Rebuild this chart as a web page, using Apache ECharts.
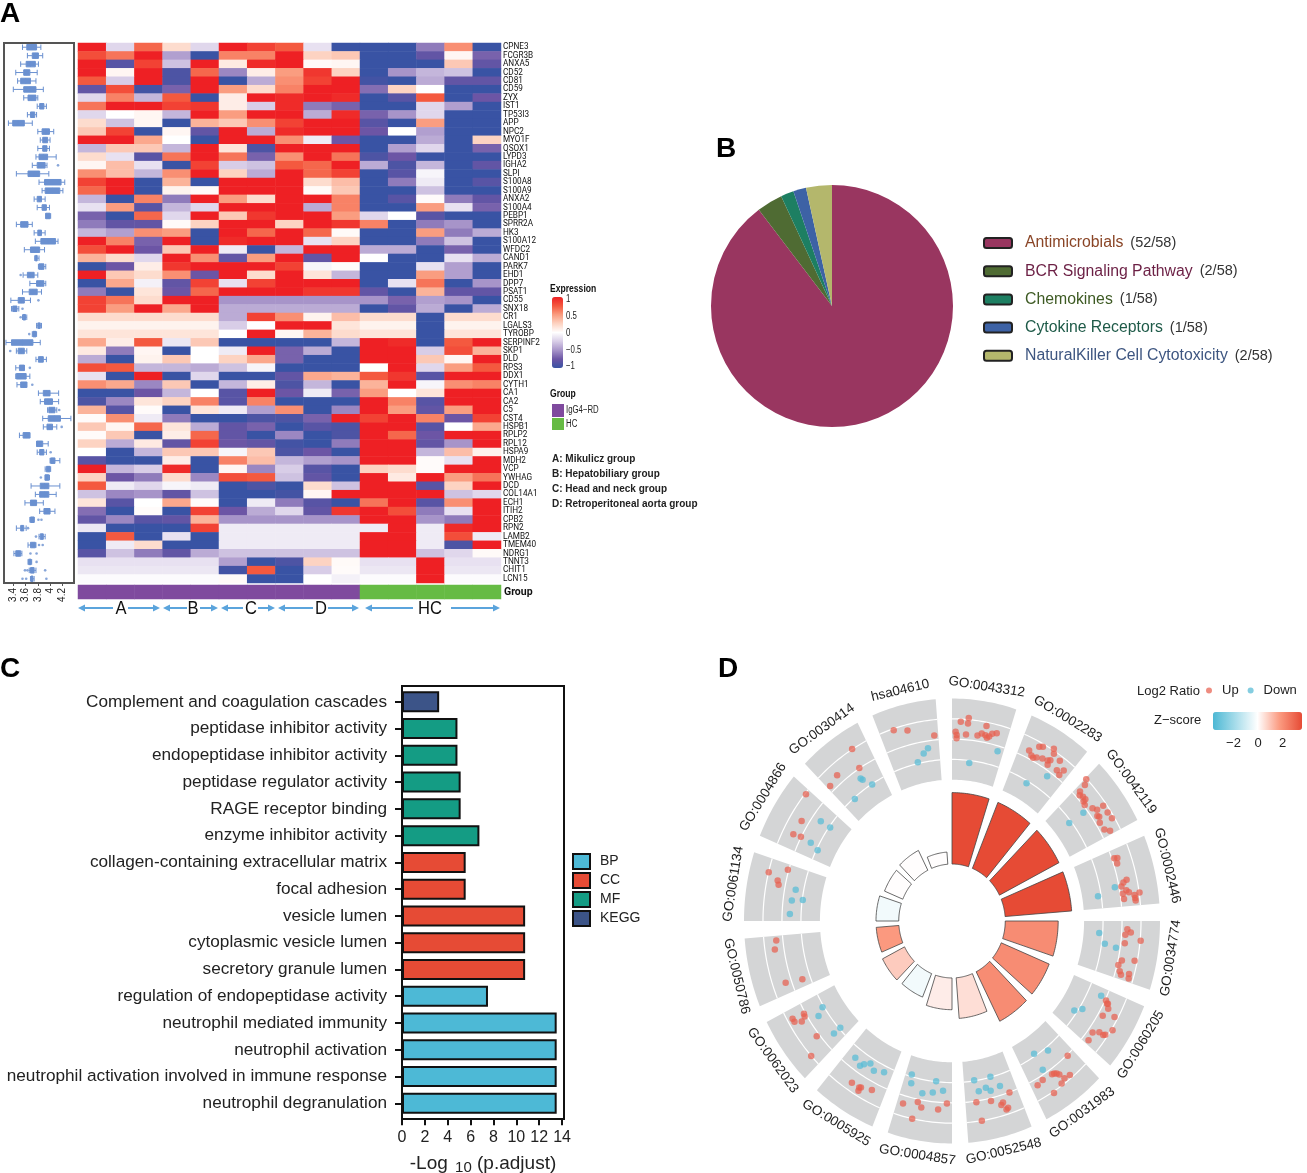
<!DOCTYPE html>
<html><head><meta charset="utf-8">
<style>html,body{margin:0;padding:0;background:#fff}#c{width:1307px;height:1173px}</style>
<script src="https://cdn.jsdelivr.net/npm/echarts@6/dist/echarts.min.js"></script>
</head><body><div id="c"></div>
<script>
const genes = ['CPNE3','FCGR3B','ANXA5','CD52','CD81','CD59','ZYX','IST1','TP53I3','APP','NPC2','MYO1F','QSOX1','LYPD3','IGHA2','SLPI','S100A8','S100A9','ANXA2','S100A4','PEBP1','SPRR2A','HK3','S100A12','WFDC2','CAND1','PARK7','EHD1','DPP7','PSAT1','CD55','SNX18','CR1','LGALS3','TYROBP','SERPINF2','SKP1','DLD','RPS3','DDX1','CYTH1','CA1','CA2','C5','CST4','HSPB1','RPLP2','RPL12','HSPA9','MDH2','VCP','YWHAG','DCD','COL14A1','ECH1','ITIH2','CPB2','RPN2','LAMB2','TMEM40','NDRG1','TNNT3','CHIT1','LCN15'];
const samples = ['A1','A2','A3','A4','B1','C1','C2','D1','D2','D3','HC1','HC2','HC3','HC4','HC5'];
const sampleGroup = [0,0,0,0,0,0,0,0,0,0,1,1,1,1,1];
const expression = [
[1,-.2,.7,.2,-.2,1,.85,.75,-.15,-1,-1,-1,-.6,.55,-1],
[.8,.65,1,-.45,-1,.6,.6,1,.25,.3,-1,-1,-.8,.05,-.7],
[1,-.85,.85,-.3,1,.12,.95,1,.03,.05,-1,-1,-1,.3,-.8],
[1,.05,1,-.9,.7,-.55,.1,.5,.9,.25,-1,-.5,-.35,-.3,-1],
[.75,-.25,1,-.9,1,-1,-.4,.55,.85,1,-.95,-1,-.4,-.8,-.8],
[-.8,.8,-.95,-.7,1,.5,.2,.6,1,1,-.65,.25,0,-1,-1],
[-.2,.6,-.35,.75,-1,.1,1,.95,1,.95,-1,-.85,.75,-1,-.75],
[.65,1,1,.85,.9,.1,-.25,.95,-.6,-.7,-1,-1,-.2,-.45,-1],
[-.2,0,.05,-.35,1,.5,1,1,-.4,.95,-.7,-.5,-.2,-1,-1],
[.2,-.3,.05,-1,.4,.3,.55,.85,1,1,-.85,-1,.5,-1,-1],
[.3,.85,-1,.05,-.8,1,-.4,.95,1,1,-.75,0,-.45,-1,-1],
[1,1,.45,0,-1,1,1,.55,-.1,-.75,-1,-1,-.4,-1,.25],
[-.35,.3,.3,-.35,1,.15,-.9,1,1,1,-1,-.45,-.2,-1,-.7],
[.2,-.15,-.85,.65,1,.65,-.7,.55,1,.65,-.9,-.75,-1,-1,-1],
[.05,.35,-.15,-1,.85,-.25,-.3,.75,.7,1,-.4,-.9,-.35,-1,-.8],
[.55,.35,-.35,.55,1,.25,-.4,1,.7,.85,-1,-.85,-.05,-1,-1],
[.85,1,-1,.4,-1,1,1,1,.2,.35,-1,-.6,-.1,-1,-.85],
[.7,1,-1,.07,.03,1,1,1,.03,.3,-1,-1,-.3,-1,-1],
[-.35,-1,.6,-.6,1,.5,.2,1,1,.6,-1,-.85,.02,-.6,-.8],
[-.15,.5,-.85,-.35,-.2,1,1,1,-.4,.6,-1,-1,.5,-.15,-.7],
[-.7,-1,.7,-.2,1,.3,.9,1,1,.5,-.2,0,-.85,-1,-1],
[-.6,-.8,-.8,.03,.25,1,1,.25,1,.9,.6,-1,-.6,-.5,-1],
[-.35,-.45,.55,.5,-1,1,.7,1,.7,.03,-1,-1,.5,-.6,-.4],
[1,.6,-.7,1,-1,.95,1,1,-.15,.25,-1,-1,-.6,-.3,-1],
[.8,1,-.75,.3,1,-.1,-1,-.35,1,1,-.4,-.4,-1,-.7,-1],
[.4,.2,-.2,1,.55,-.8,.5,1,-.8,1,0,-1,-1,-.15,-.4],
[-1,-.75,.1,.9,1,1,1,.85,-.05,.02,-1,-1,-.15,-.45,-1],
[1,.3,.2,.55,-.75,1,.2,1,.15,-.35,-1,-1,.5,-.45,-1],
[-1,.45,-.07,-.8,.85,-.15,.85,1,1,1,-1,-.15,.65,-1,-.5],
[-.6,-1,.15,-.75,.7,1,1,1,.9,.9,-.8,-1,.4,-.8,-.8],
[.85,.65,.2,1,1,-.5,-.5,-.5,-.5,-.5,-.5,-.7,-.45,-.5,-1],
[.85,.5,1,.45,1,-.4,-.4,-.4,-.4,-.4,-1,-.8,-.4,-1,-.4],
[.2,.2,.2,.2,.2,-.4,.85,.55,.07,.35,.2,.2,-1,.2,.2],
[.07,.07,.07,.07,.07,-.25,0,1,1,.15,.07,.07,-1,.07,.07],
[.15,.15,.15,.15,.15,0,1,.05,.4,.2,.15,.15,-1,.15,.15],
[.45,.1,.75,-.12,.3,-1,-1,-1,-1,-.35,1,.95,-1,.75,1],
[.12,-.6,.05,-1,0,-.1,1,-.7,-.4,-1,1,1,-.25,.8,.4],
[-.4,-1,.07,.3,0,.25,.45,-.7,-1,-1,1,1,.3,.05,1],
[.8,.75,-.35,-.35,-.4,-.3,-.05,-1,-1,-1,0,1,-.2,.5,.75],
[-.15,-1,1,-1,-.2,-1,-1,-.8,.45,.4,.75,.9,-.85,1,1],
[.55,.45,-.55,.3,-1,-.35,.1,-.9,-.35,-1,.4,1,-.05,.55,.6],
[-1,-1,-.75,-.35,0,-.85,1,-.75,-.1,-.7,.5,0,.15,1,1],
[-.9,-.55,.15,.25,.6,-.85,.6,-1,-1,-1,1,.6,-.85,1,1],
[.4,-.85,.02,-1,.15,-.1,-.45,.55,-1,-.55,1,.5,-.8,.5,1],
[.02,.55,-.1,-.6,-1,-1,-.9,-.9,-.7,1,.85,1,.6,-.75,.85],
[.3,.05,.7,.15,-.4,-.8,-.7,-1,-.85,-.9,1,1,-.85,0,.45],
[.02,.3,-1,.1,.7,-.8,-1,-.55,-1,-.9,1,.7,-.75,1,1],
[.25,-.4,.12,-.8,.85,-.75,-.8,-.95,-1,-.6,1,1,-.8,-.5,1],
[0,-1,-.35,.3,.3,-.05,.3,-.9,-.75,-1,1,1,-.35,.35,.08],
[-.85,-1,-1,.1,-1,.6,.35,-.35,-.45,-.5,1,1,.02,-.15,1],
[1,-.35,-.25,.95,-1,.05,-.55,-.25,-.85,-1,.25,.2,.02,1,1],
[.25,-.75,-.6,.2,-.55,.8,.75,-.3,-.8,-1,1,.12,1,.5,.65],
[.75,-.1,-.2,-.05,-.1,-1,-.9,-1,.2,-.3,1,1,-.85,.25,1],
[-.3,-.55,-.5,-.8,-.3,-1,-1,-.95,.05,1,1,1,1,-.3,-.2],
[.15,-.85,0,.45,.02,-1,-.1,-.6,-.85,-1,.65,1,-.85,.55,1],
[-.65,-1,.02,-1,.85,-.75,-.4,-.2,-.8,.9,1,.8,-.6,-.15,1],
[-.8,-.55,-.85,-.8,.4,-.5,-.5,-.5,-.5,-.5,1,1,-.5,-.6,1],
[-.12,-1,-1,-1,.85,-.1,-.1,-.1,-.1,-.1,-.1,1,-.1,.95,1],
[-1,.75,-1,-.15,-1,-.1,-.1,-.1,-.1,-.1,1,1,-.1,.8,-.1],
[-1,-.1,.2,-1,-1,-.1,-.1,-.1,-.1,-.1,1,1,-.1,-.9,1],
[-.85,-.3,-.6,-.8,-.4,-.3,-.3,-.3,-.3,-.3,1,1,-.3,-.2,.03],
[-.15,-.15,-.15,-.15,-.15,-.45,-1,-.9,.25,.03,-.15,-.15,1,-.15,-.15],
[-.12,-.12,-.12,-.12,-.12,-.95,.75,-1,-.25,.02,-.12,-.12,1,-.12,-.12],
[-.02,-.02,-.02,-.02,-.02,.03,-1,-1,0,-.07,-.02,-.02,1,-.02,-.02]];
const boxStats = [
[3.55,3.62,3.70,3.78,3.85],[3.63,3.71,3.76,3.81,3.88],[3.52,3.61,3.68,3.76,3.81],[3.44,3.57,3.62,3.67,3.79],
[3.47,3.52,3.60,3.68,3.77],[3.40,3.57,3.67,3.77,3.89],[3.57,3.64,3.70,3.77,3.80],[3.79,3.83,3.86,3.90,3.94],
[3.63,3.68,3.71,3.75,3.78],[3.32,3.39,3.48,3.58,3.71],[3.80,3.87,3.93,3.99,4.06],[3.84,3.88,3.92,3.96,4.00],
[3.80,3.88,3.91,3.95,3.99],[3.77,3.82,3.89,3.96,4.10],[3.71,3.79,3.85,3.92,3.95],[3.45,3.64,3.73,3.83,3.98],
[3.82,3.91,4.05,4.18,4.24],[3.87,3.92,4.04,4.16,4.21],[3.74,3.79,3.83,3.86,3.92],[3.79,3.87,3.90,3.94,3.99],
[3.93,3.93,3.97,4.00,4.01],[3.45,3.52,3.58,3.64,3.71],[3.74,3.80,3.83,3.86,3.92],[3.76,3.85,3.97,4.09,4.13],
[3.58,3.68,3.75,3.83,3.91],[3.75,3.76,3.78,3.79,3.82],[3.81,3.82,3.86,3.90,3.93],[3.56,3.63,3.68,3.74,3.80],
[3.67,3.78,3.84,3.90,3.93],[3.55,3.66,3.72,3.79,3.86],[3.36,3.48,3.53,3.58,3.68],[3.37,3.39,3.43,3.46,3.49],
[3.55,3.56,3.58,3.60,3.62],[3.78,3.80,3.83,3.84,3.86],[3.71,3.72,3.75,3.77,3.78],[3.28,3.37,3.55,3.72,3.84],
[3.45,3.48,3.53,3.58,3.62],[3.77,3.81,3.85,3.89,3.94],[3.44,3.50,3.54,3.58,3.58],[3.44,3.45,3.52,3.61,3.67],
[3.46,3.52,3.57,3.62,3.62],[3.81,3.89,3.94,4.00,4.14],[3.84,3.91,3.97,4.04,4.14],[3.96,3.98,4.03,4.08,4.11],
[3.88,3.97,4.07,4.17,4.34],[3.89,3.95,4.00,4.04,4.11],[3.50,3.56,3.61,3.67,3.67],[3.78,3.78,3.83,3.88,3.97],
[3.79,3.83,3.86,3.90,3.94],[4.00,4.01,4.04,4.08,4.16],[3.92,3.94,3.97,4.00,4.01],[3.92,3.92,3.95,3.98,3.99],
[3.69,3.84,3.91,3.98,4.16],[3.76,3.83,3.91,3.98,4.10],[3.59,3.68,3.72,3.78,3.89],[3.83,3.90,3.95,4.00,4.08],
[3.67,3.68,3.70,3.74,3.74],[3.45,3.52,3.55,3.57,3.61],[3.82,3.84,3.87,3.89,3.92],[3.64,3.68,3.72,3.76,3.77],
[3.41,3.44,3.48,3.52,3.54],[3.64,3.65,3.67,3.69,3.70],[3.66,3.68,3.71,3.74,3.77],[3.68,3.69,3.71,3.72,3.74]];
const boxOutliers = [[4.13,14],[3.52,27],[3.81,30],[3.55,31],[3.52,32],[3.66,34],[3.35,36],[3.67,38],[3.71,40],[4.15,43],[4.19,45],[4.01,48],[3.85,51],[3.81,56],[3.86,56],[3.64,57],[3.77,58],[3.82,59],[3.88,59],[3.68,60],[3.78,60],[3.78,61],[3.59,62],[3.63,62],[3.92,62],[3.55,63],[3.61,63],[3.94,63]];
const boxTicks = [3.4,3.6,3.8,4,4.2];
const expressionTicks = [1,0.5,0,-0.5,-1];

const pathways = ['Antimicrobials','BCR Signaling Pathway','Chemokines','Cytokine Receptors','NaturalKiller Cell Cytotoxicity'];
const pathwayCounts = [52,2,1,1,2];
const pathwayTotal = 58;
const pathwayColors = ['#993660','#4f6b33','#1d7f62','#3d62a5','#b4b76c'];
const pathwayTextColors = ['#8a4526','#6b1f44','#3d5a23','#1e5a48','#3d5580'];

const enrichTerms = ['Complement and coagulation cascades','peptidase inhibitor activity','endopeptidase inhibitor activity','peptidase regulator activity','RAGE receptor binding','enzyme inhibitor activity','collagen-containing extracellular matrix','focal adhesion','vesicle lumen','cytoplasmic vesicle lumen','secretory granule lumen','regulation of endopeptidase activity','neutrophil mediated immunity','neutrophil activation','neutrophil activation involved in immune response','neutrophil degranulation'];
const enrichValues = [3.25,4.85,4.85,5.13,5.13,6.77,5.57,5.57,10.77,10.77,10.77,7.52,13.53,13.53,13.53,13.53];
const enrichClass = ['KEGG','MF','MF','MF','MF','MF','CC','CC','CC','CC','CC','BP','BP','BP','BP','BP'];
const enrichClasses = ['BP','CC','MF','KEGG'];
const enrichColors = ['#4db9d6','#e64b35','#149c84','#3c5488'];
const enrichTicks = [0,2,4,6,8,10,12,14];

const circleTerms = ['GO:0043312','GO:0002283','GO:0042119','GO:0002446','GO:0034774','GO:0060205','GO:0031983','GO:0052548','GO:0004857','GO:0005925','GO:0062023','GO:0050786','GO:0061134','GO:0004866','GO:0030414','hsa04610'];
const circleLogP = [13.5,13.5,13.5,13.5,10.7,10.5,10.5,7.7,6,4.8,5,4.6,4.6,4,4.2,2.3];
const circleZ = [3.6,3.6,3.6,3.6,2.1,2.1,2.1,.55,.3,-.3,.9,1.8,-.3,0,0,0];
// each point: [position within the term's sector, log2 ratio]
const upPoints = [
[[.15,.87],[.28,1.08],[.275,.8],[.595,.82],[.065,.37],[.085,.21],[.085,.05],[.255,.26],[.465,.27],[.535,.41],[.605,.36],[.64,.25],[.675,.34],[.72,.5],[.795,.58]],
[[.185,.37],[.26,.2],[.305,.15],[.36,.24],[.46,.35],[.555,.42],[.595,.5],[.595,.24],[.59,.87],[.735,.77],[.785,.3],[.885,.51],[.87,.19],[.315,.78],[.37,.87],[.545,1.08]],
[[.02,.98],[.07,.73],[.09,.32],[.13,.19],[.19,.27],[.25,.28],[.26,.13],[.32,.07],[.45,.3],[.52,.45],[.53,.82],[.66,.83],[.78,.87],[.61,.28],[.64,.34],[.73,.21],[.87,.25],[.94,.48]],
[[.145,.13],[.16,.29],[.25,.19],[.56,.46],[.59,.27],[.65,.13],[.73,.35],[.78,.14],[.77,.47],[.87,.17],[.83,.74],[.8,1.02],[.88,.76],[.92,.77]],
[[.14,.29],[.235,.2],[.19,.48],[.38,.21],[.31,1.03],[.68,.2],[.64,.86],[.77,.07],[.87,.22],[.92,.33],[.87,.73],[.94,.77]],
[[.18,.05],[.215,.21],[.225,.17],[.29,.34],[.44,.25],[.355,.82],[.555,1.07],[.705,.54],[.705,.79],[.68,.87],[.78,.26],[.93,.33]],
[[.135,.05],[.52,.28],[.485,.36],[.455,.48],[.42,.79],[.315,.84],[.51,.91],[.755,.21],[.88,.3],[.7,1.07],[.56,.25]],
[[.155,.02],[.795,.06],[.525,.14],[.32,.37],[.36,.47],[.26,.7],[.295,.76],[.745,1.0]],
[[.89,.39],[.635,.14],[.555,.37],[.25,.36],[.095,.03],[.675,1.01]],
[[.61,.6],[.46,.59],[.435,.54],[.445,.75],[.245,.37]],
[[.815,.08],[.765,.12],[.72,.38],[.845,.72],[.785,.71],[.36,.15],[.175,1.0]],
[[.92,.35],[.775,.48],[.185,.32],[.14,-.57]],
[[.775,.99],[.905,.05],[.68,.44],[.615,.35]],
[[.92,.95],[.52,.37],[.255,.43],[.28,.02]],
[[.73,1.01],[.27,.43],[.67,.02],[.055,.28]],
[[.245,.93],[.47,.71],[.925,.22]]];
const downPoints = [
[[.89,-.26],[.37,-1.12]],
[[.7,-.24],[.42,-1.12]],
[[.41,-.22],[.39,-1.12]],
[[.64,-.22],[.75,-1.17]],
[[.24,-1.18],[.44,-.83],[.48,-.22]],
[[.145,-.28],[.54,-.84],[.66,-1.15]],
[[.64,-1.12],[.365,-.82],[.66,-.21]],
[[.78,-1.03],[.43,-1.02],[.72,-.45],[.57,-.55],[.49,-.35],[.29,-.45]],
[[.87,-1.11],[.835,-.68],[.335,-1.02],[.58,-.33],[.38,-.45],[.18,-.59]],
[[.81,-.51],[.65,-.34],[.6,-.52],[.5,-.73],[.37,-.51],[.175,-.69]],
[[.725,-.92],[.63,-.51],[.185,-.63],[.18,-1.07]],
[],
[[.59,-.58],[.38,-.46],[.415,-1.03],[.13,-.41]],
[[.715,-.48],[.73,-1.06],[.27,-.58],[.205,-1.07]],
[[.585,-.45],[.605,-.56],[.72,-1.03],[.255,-1.06]],
[[.78,-.36],[.68,-.58],[.53,-.93]]];
const zTicks = [-2,0,2];

const SANS = '"Liberation Sans",Arial,sans-serif';
const NARROW = 'Roboto,"Liberation Sans",sans-serif';
const PITCH = 22.5, SPAN = 18, RHO_MID = .8175, RHO_STEP = .09125, RHO_IN = .635, RHO_BASE = .256, RHO_PER_P = .02378;
const xy = (rho, deg) => [rho*Math.sin(deg*Math.PI/180), rho*Math.cos(deg*Math.PI/180)];
const pointXY = (term, p) => xy(RHO_MID + p[1]*RHO_STEP, term*PITCH + p[0]*SPAN);
const flatten = arr => arr.flatMap((pts, i) => pts.map(p => pointXY(i, p)));

function arcPoly(api, i, r0, r1) {
  const a0 = i*PITCH, pts = [];
  for (let k=0;k<=18;k++) pts.push(api.coord(xy(r1, a0+SPAN*k/18)));
  for (let k=18;k>=0;k--) pts.push(api.coord(xy(r0, a0+SPAN*k/18)));
  return pts;
}
function sectorItem(params, api) {
  const i = api.value(0), children = [];
  children.push({type:'polygon', shape:{points:arcPoly(api,i,RHO_IN,1)}, style:{fill:'#d4d5d6'}});
  [-1,0,1].forEach(v => {
    const pts=[]; for (let k=0;k<=18;k++) pts.push(api.coord(xy(RHO_MID+v*RHO_STEP, i*PITCH+SPAN*k/18)));
    children.push({type:'polyline', shape:{points:pts}, style:{stroke:'#fff', lineWidth:1.2, fill:null}});
  });
  const phi = i*PITCH + SPAN/2, c = api.coord(xy(1.065, phi));
  const cw = (phi>90 && phi<270) ? phi-180 : phi;
  children.push({type:'text', x:c[0], y:c[1], rotation:-cw*Math.PI/180,
    style:{text:circleTerms[i], textAlign:'center', textVerticalAlign:'middle', font:'13.5px '+SANS, fill:'#222'}});
  return {type:'group', children};
}
function barItem(params, api) {
  const i = api.value(0), top = RHO_BASE + api.value(1)*RHO_PER_P;
  return {type:'polygon', shape:{points:arcPoly(api,i,RHO_BASE,top)}, style:{fill:api.visual('color'), stroke:'#444', lineWidth:.8}};
}

const txt = (x,y,text,font,fill,extra,sx) => ({type:'text', x, y, scaleX:sx||1, silent:true, style:Object.assign({text, font, fill:fill||'#111', textVerticalAlign:'middle'}, extra||{})});
const arrowColor = '#5ba4dc';
function arrow(x1,x2,y) {
  const dir = x2>x1 ? 1 : -1;
  return [{type:'line', shape:{x1,y1:y,x2:x2-dir*5,y2:y}, style:{stroke:arrowColor,lineWidth:2}},
          {type:'polygon', shape:{points:[[x2,y],[x2-dir*7,y-3.5],[x2-dir*7,y+3.5]]}, style:{fill:arrowColor}}];
}
const arrowSpans = [[78,113,'A',121,128,160],[163,187,'B',193,200,218],[221,243,'C',251,258,275],[278,313,'D',321,328,359],[365,413,'HC',430,451,500]];
const graphics = [];
[['A',0,14],['B',716,149],['C',0,669],['D',718,669]].forEach(l => graphics.push(txt(l[1],l[2],l[0],'bold 28px '+SANS,'#000')));
arrowSpans.forEach(s => {
  graphics.push(...arrow(s[1],s[0],608),...arrow(s[4],s[5],608));
  graphics.push(txt(s[3],609,s[2],'18px '+SANS,'#111',{textAlign:'center'},.92));
});
graphics.push(txt(550,289,'Expression','bold 11px '+SANS,'#111',null,.78));
expressionTicks.forEach((t,i)=>graphics.push(txt(566,299.5+i*16.8,t===0?'0':String(t).replace('-','\u2212'),'10px '+SANS,'#222',null,.78)));
graphics.push(txt(550,394,'Group','bold 11px '+SANS,'#111',null,.78));
graphics.push({type:'rect',shape:{x:552,y:404,width:12,height:13},style:{fill:'#7f4a9e'}});
graphics.push({type:'rect',shape:{x:552,y:418,width:12,height:12},style:{fill:'#66bb44'}});
graphics.push(txt(566,410,'IgG4\u2212RD','10px '+SANS,'#222',null,.78));
graphics.push(txt(566,424,'HC','10px '+SANS,'#222',null,.78));
['A: Mikulicz group','B: Hepatobiliary group','C: Head and neck group','D: Retroperitoneal aorta group'].forEach((s,i)=>graphics.push(txt(552,459+i*15,s,'bold 10px '+SANS,'#222')));
graphics.push({type:'rect',shape:{x:402,y:686,width:162,height:433},style:{fill:'none',stroke:'#111',lineWidth:2},z:10});
graphics.push(txt(1137,691,'Log2 Ratio','13px '+SANS,'#222'));
graphics.push(txt(1154,720,'Z\u2212score','13px '+SANS,'#222'));
zTicks.forEach(t=>graphics.push(txt(1258+t*12.25,743,t<0?'\u2212'+(-t):String(t),'13px '+SANS,'#222',{textAlign:'center'})));

const heatData = [];
expression.forEach((row,r)=>row.forEach((v,c)=>heatData.push([c,r,v])));

const chart = echarts.init(document.getElementById('c'),null,{renderer:'canvas'});
chart.setOption({
  animation:false,
  backgroundColor:'#fff',
  textStyle:{fontFamily:SANS},
  graphic:graphics,
  grid:[
    {left:4,top:43,width:70,height:540,show:true,borderColor:'#555',borderWidth:2,backgroundColor:'transparent',outerBoundsMode:'none'},
    {left:78,top:43,width:423,height:540,outerBoundsMode:'none'},
    {left:78,top:585,width:423,height:14,outerBoundsMode:'none'},
    {left:402,top:688.4,width:162,height:428.3,outerBoundsMode:'none'},
    {left:744,top:698.5,width:416,height:445,outerBoundsMode:'none'}
  ],
  xAxis:[
    {gridIndex:0,type:'value',min:3.248,max:4.391,splitLine:{show:false},axisLine:{show:false},
      axisTick:{show:true,length:3,customValues:boxTicks,lineStyle:{color:'#555'}},
      axisLabel:{rotate:90,fontSize:10,color:'#222',margin:5,customValues:boxTicks}},
    {gridIndex:1,type:'category',data:samples,show:false},
    {gridIndex:2,type:'category',data:samples,show:false},
    {gridIndex:3,type:'value',min:0,max:14.17,offset:2.5,splitLine:{show:false},
      axisLine:{show:false},
      axisTick:{show:true,length:6,customValues:enrichTicks,lineStyle:{color:'#111',width:2}},
      axisLabel:{fontSize:16,color:'#222',margin:10,customValues:enrichTicks},
      name:'{a|-Log }{b|10}{a| (p.adjust)}',nameLocation:'middle',nameGap:33,
      nameTextStyle:{rich:{a:{fontSize:19,color:'#222',fontFamily:SANS},b:{fontSize:15,color:'#222',padding:[8,0,0,2],fontFamily:SANS}}}},
    {gridIndex:4,type:'value',min:-1,max:1,show:false}
  ],
  yAxis:[
    {gridIndex:0,type:'category',data:genes,inverse:true,axisLine:{show:false},axisTick:{show:false},axisLabel:{show:false}},
    {gridIndex:1,type:'category',data:genes,inverse:true,position:'right',axisLine:{show:false},axisTick:{show:false},
      axisLabel:{interval:0,fontSize:8.2,fontFamily:NARROW,color:'#111',margin:2}},
    {gridIndex:2,type:'category',data:['Group'],position:'right',axisLine:{show:false},axisTick:{show:false},
      axisLabel:{fontSize:10.5,fontWeight:'bold',fontFamily:NARROW,color:'#111',margin:3}},
    {gridIndex:3,type:'category',data:enrichTerms,inverse:true,axisLine:{show:false},
      axisTick:{show:true,length:7,alignWithLabel:true,lineStyle:{color:'#111',width:2}},
      axisLabel:{interval:0,fontSize:17.2,color:'#222',margin:15}},
    {gridIndex:4,type:'value',min:-1,max:1,show:false}
  ],
  visualMap:[
    {type:'continuous',seriesIndex:[2],dimension:2,min:-1,max:1,calculable:false,orient:'vertical',left:552,top:297,itemWidth:11,itemHeight:71,text:['',''],padding:0,
      inRange:{color:['#3953A4','#6C55A5','#A794C9','#D8CDE7','#FFFFFF','#FDD3C2','#FA9D80','#F4593F','#EE2024']}},
    {type:'piecewise',seriesIndex:[3],dimension:2,show:false,pieces:[{value:0,color:'#7f4a9e'},{value:1,color:'#66bb44'}]},
    {type:'continuous',seriesIndex:[10],dimension:2,min:-3.67,max:3.6,calculable:false,orient:'horizontal',left:1213,top:712,itemWidth:18,itemHeight:89,text:['',''],padding:0,
      inRange:{color:['#4cb8d4','#a6dcea','#ffffff','#fb9a80','#e64b35']}}
  ],
  legend:[
    {left:983,top:235,padding:0,orient:'vertical',itemWidth:28,itemHeight:10,itemGap:12.2,data:pathways,
      itemStyle:{borderColor:'#222',borderWidth:2},
      formatter:n=>{const i=pathways.indexOf(n);return `{t${i}|${n}}{c|(${pathwayCounts[i]}/${pathwayTotal})}`;},
      textStyle:{rich:Object.assign({c:{fontSize:14.5,color:'#333',fontFamily:SANS}},
        Object.fromEntries(pathwayTextColors.map((col,i)=>['t'+i,{fontSize:15.8,color:col,fontFamily:SANS,padding:[0,7,0,8]}])))}},
    {left:572,top:853,padding:0,orient:'vertical',icon:'rect',itemWidth:17,itemHeight:15,itemGap:2,data:enrichClasses,
      textStyle:{fontSize:14,color:'#222',padding:[0,0,0,5]}},
    {left:1206,top:684,padding:0,orient:'horizontal',itemWidth:6,itemHeight:6,itemGap:9,data:['Up','Down'],
      textStyle:{fontSize:13,color:'#222',padding:[0,0,0,5]}}
  ],
  series:[
    {type:'boxplot',xAxisIndex:0,yAxisIndex:0,data:boxStats,boxWidth:[5.5,5.5],
      itemStyle:{color:'#6a90d0',borderColor:'#6a90d0',borderWidth:1},silent:true},
    {type:'scatter',xAxisIndex:0,yAxisIndex:0,data:boxOutliers,symbolSize:2.6,itemStyle:{color:'#6a90d0'},silent:true},
    {type:'heatmap',xAxisIndex:1,yAxisIndex:1,data:heatData,progressive:0,silent:true},
    {type:'heatmap',xAxisIndex:2,yAxisIndex:2,data:sampleGroup.map((g,i)=>[i,0,g]),progressive:0,silent:true},
    {type:'pie',center:[832,306],radius:[0,121],startAngle:90,clockwise:true,silent:true,label:{show:false},labelLine:{show:false},
      data:pathways.map((n,i)=>({name:n,value:pathwayCounts[i],itemStyle:{color:pathwayColors[i]}}))},
    ...enrichClasses.map((cl,ci)=>({type:'bar',name:cl,xAxisIndex:3,yAxisIndex:3,stack:'e',barWidth:21,silent:true,
      data:enrichValues.map((v,i)=>enrichClass[i]===cl?v:null),
      itemStyle:{color:enrichColors[ci],borderColor:'#111',borderWidth:2}})),
    {type:'custom',xAxisIndex:4,yAxisIndex:4,renderItem:sectorItem,clip:false,silent:true,data:circleTerms.map((t,i)=>[i,0])},
    {type:'custom',xAxisIndex:4,yAxisIndex:4,renderItem:barItem,clip:false,silent:true,
      encode:{x:0,y:1},data:circleTerms.map((t,i)=>[i,circleLogP[i],circleZ[i]])},
    {type:'scatter',name:'Up',xAxisIndex:4,yAxisIndex:4,data:flatten(upPoints),symbolSize:6.5,silent:true,z:5,itemStyle:{color:'#e8604f',opacity:.72}},
    {type:'scatter',name:'Down',xAxisIndex:4,yAxisIndex:4,data:flatten(downPoints),symbolSize:6.5,silent:true,z:5,itemStyle:{color:'#5bbcd6',opacity:.75}}
  ]
});
</script></body></html>
